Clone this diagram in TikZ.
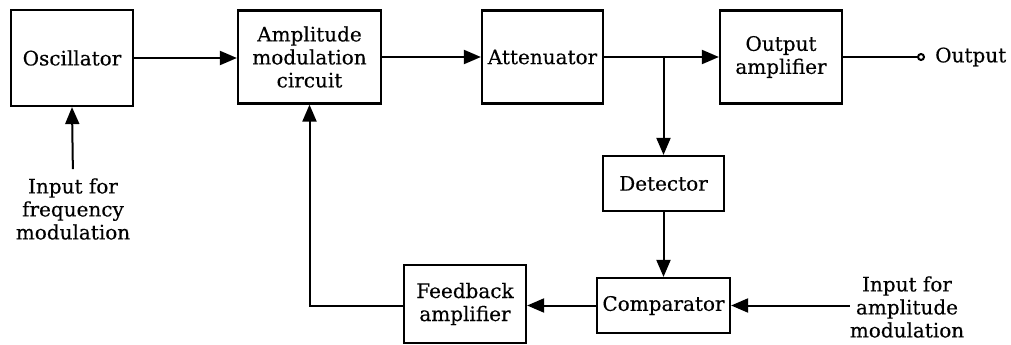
\documentclass[tikz,border=0pt]{standalone}
\usepackage{fontspec}
\setmainfont{DejaVu Serif}
\newfontfamily\diagfont{DejaVu Serif}[FakeBold=0.3]
\usepackage{tikz}
\usetikzlibrary{arrows.meta, positioning}

\begin{document}
\begin{tikzpicture}[x=1pt, y=-1pt]

% define styles
\tikzstyle{blockbox}=[draw, line width=2.2pt, align=center, inner sep=0pt, font=\diagfont\fontsize{20}{23}\selectfont]
\tikzstyle{inputtext}=[align=center, inner sep=0pt, font=\diagfont\fontsize{20}{23}\selectfont]
\tikzstyle{flow}=[line width=2pt, -{Triangle[length=17pt, width=14pt]}]

\useasboundingbox (0,0) rectangle (1011,345);

% top row
\node[blockbox, minimum width=122pt, minimum height=96pt] (osc) at (72,58) {Oscillator};
\node[blockbox, minimum width=143pt, minimum height=93pt] (am) at (309.5,57) {Amplitude\\modulation\\circuit};
\node[blockbox, minimum width=121pt, minimum height=93pt] (att) at (542.5,57) {Attenuator};
\node[blockbox, minimum width=122pt, minimum height=93pt] (outamp) at (781,57) {Output\\amplifier};

% lower row
\node[blockbox, minimum width=121pt, minimum height=55pt] (det) at (663.5,183.5) {Detector};
\node[blockbox, minimum width=133pt, minimum height=55pt] (comp) at (663.5,305.5) {Comparator};
\node[blockbox, minimum width=122pt, minimum height=78pt] (fb) at (465,304) {Feedback\\amplifier};

% inputs and output
\node[inputtext] (freqin) at (73,209) {Input for\\frequency\\modulation};
\node[inputtext] (amin) at (907,307) {Input for\\amplitude\\modulation};
\coordinate (outpin) at (925,57);
\node[inputtext, right=10pt of outpin] (outtxt) {Output};

% forward path
\draw[flow] (osc.east) -- (osc.east -| am.west);
\draw[flow] (am.east) -- (att.west);
\draw[flow] (att.east) -- (outamp.west);
\draw[line width=2pt, -{Circle[open, length=8pt, line width=2pt]}] (outamp.east) -- (outpin);
\draw[flow, shorten <=9pt] (freqin.north) -- (osc.south);

% feedback loop
\coordinate (split) at (det.north |- att.east);
\draw[flow] (split) -- (det.north);
\draw[flow] (det.south) -- (comp.north);
\draw[flow] (amin.west |- comp.east) -- (comp.east);
\draw[flow] (comp.west) -- (comp.west -| fb.east);
\draw[flow] (fb.west |- comp.west) -| (am.south);

\end{tikzpicture}
\end{document}
